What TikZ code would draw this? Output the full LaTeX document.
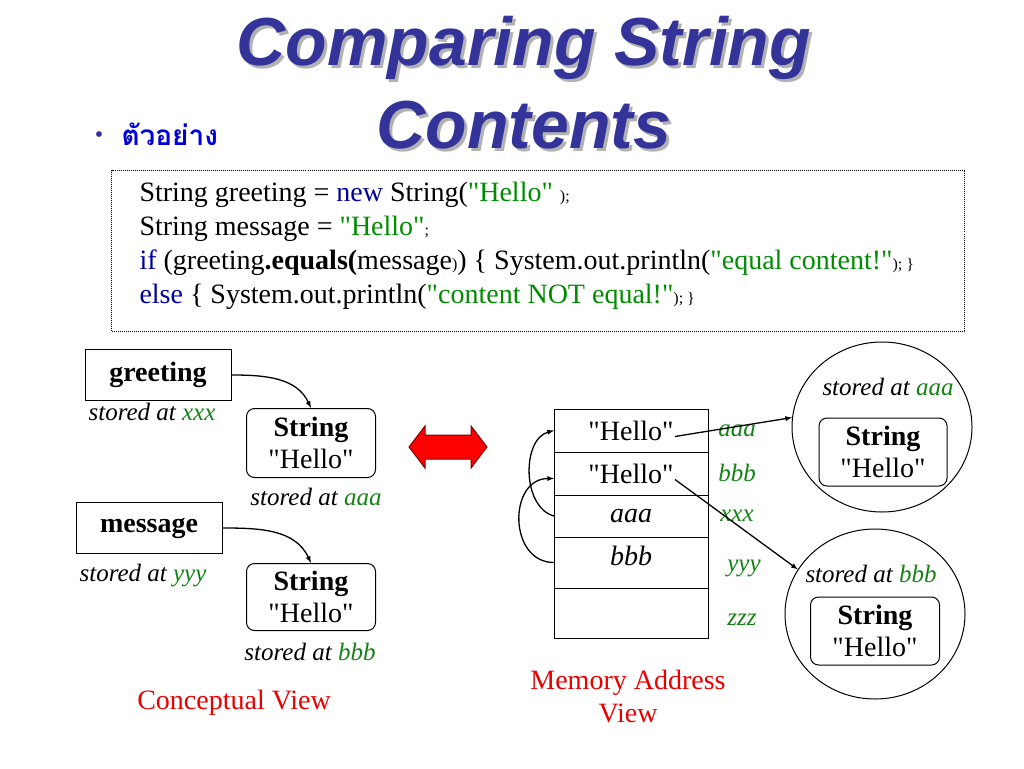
\documentclass[tikz,border=0pt]{standalone}
\usepackage{fontspec}
\setmainfont{Liberation Serif}[Ligatures=TeXOff]
\newfontfamily\titlefont{Liberation Sans}
\newfontfamily\thaifont[Script=Thai]{Loma}
\usetikzlibrary{shapes.geometric,positioning}

\definecolor{titleblue}{RGB}{51,51,153}
\definecolor{codegreen}{RGB}{0,140,0}
\definecolor{keyblue}{RGB}{0,0,160}
\definecolor{addrgreen}{RGB}{20,130,20}
\definecolor{viewred}{RGB}{235,0,0}
\newcommand{\fs}[2]{\fontsize{#1}{#2}\selectfont}
\newcommand{\str}[1]{\textcolor{codegreen}{#1}}
\newcommand{\sm}[1]{{\fs{16}{18}#1}}
\newcommand{\addr}[1]{\textcolor{addrgreen}{#1}}
% title text with its grey shadow in one box
\newcommand{\shadowed}[1]{\rlap{\kern3pt\raisebox{-3pt}{\textcolor{black!30}{#1}}}#1}

\begin{document}
\begin{tikzpicture}[x=1pt, y=-1pt, line width=1pt,
    titletext/.style={font=\titlefont\bfseries\itshape\fs{68}{80}, text=titleblue, anchor=base, inner sep=0pt},
    codeline/.style={font=\fs{28}{32}, anchor=base west, inner sep=0pt},
    varbox/.style={draw, font=\bfseries\fs{28}{32}, inner sep=0pt},
    objbox/.style={draw, rounded corners=8pt, align=center, font=\fs{28}{32}, inner sep=0pt},
    stored/.style={font=\itshape\fs{25}{28}, inner sep=0pt},
    memrow/.style={draw, minimum width=154pt, font=\fs{28}{32}, inner sep=0pt, outer sep=0pt},
    addrlabel/.style={font=\itshape\fs{25}{28}, text=addrgreen, inner sep=0pt},
    bubble/.style={draw, ellipse, minimum width=180pt, minimum height=170pt},
    viewlabel/.style={font=\fs{28}{33}, text=viewred, align=center, inner sep=0pt},
    link/.style={-latex, line width=1.3pt}]
    \useasboundingbox (0,0) rectangle (1024,768);

    % Title with shadow
    \node[titletext] (title1) at (524,65) {\shadowed{Comparing String}};
    \node[titletext] (title2) at (524,148) {\shadowed{Contents}};

    % Bullet
    \node[text=titleblue, font=\fs{24}{28}, inner sep=0pt] (dot) at (99,137) {\textbullet};
    \node[anchor=west, text=blue!85!black, font=\thaifont\bfseries\fs{28}{32}, inner sep=0pt] (example) at (121,134) {ตัวอย่าง};

    % Code box
    \node[draw, densely dotted, minimum width=853pt, minimum height=161pt, anchor=north west] (codebox) at (111,170) {};
    \node[codeline] (code1) at (139,201) {String greeting = \textcolor{keyblue}{new} String(\str{"Hello"} \sm{);}};
    \node[codeline] (code2) at (139,235) {String message = \str{"Hello"}\sm{;}};
    \node[codeline] (code3) at (139,269) {\textcolor{keyblue}{if} (greeting\textbf{.equals(}message\sm{)}) \{ System.out.println(\str{"equal content!"}\sm{); \}}};
    \node[codeline] (code4) at (139,303) {\textcolor{keyblue}{else} \{ System.out.println(\str{"content NOT equal!"}\sm{); \}}};

    % Conceptual view
    \node[varbox, minimum width=146pt, minimum height=51pt] (greeting) at (158,375) {greeting};
    \node[stored] (sgreet) at (152,412) {stored at \addr{xxx}};
    \node[objbox, minimum width=129pt, minimum height=69pt] (obj1) at (311,443) {\textbf{String}\\"Hello"};
    \node[stored] (sobj1) at (316,497) {stored at \addr{aaa}};
    \node[varbox, minimum width=146pt, minimum height=51pt] (message) at (149,528) {message};
    \node[stored] (smsg) at (143,576) {stored at \addr{yyy}};
    \node[objbox, minimum width=129pt, minimum height=67pt] (obj2) at (311,597) {\textbf{String}\\"Hello"};
    \node[stored] (sobj2) at (310,652) {stored at \addr{bbb}};
    \draw[link] (greeting.east) to[out=0, in=115] (obj1.north);
    \draw[link] (message.east) to[out=0, in=115] (obj2.north);
    \node[viewlabel] (concept) at (234,703) {Conceptual View};

    % Double arrow
    \filldraw[fill=red, draw=red!50!black] (409,447) -- (425,426) -- (425,435) -- (471,435) -- (471,426)
        -- (487,447) -- (471,468) -- (471,459) -- (425,459) -- (425,468) -- cycle;

    % Memory table
    \node[memrow, minimum height=43pt, anchor=north west] (row1) at (554,409) {"Hello"};
    \node[memrow, minimum height=43pt, below=0pt of row1] (row2) {"Hello"};
    \node[memrow, minimum height=42pt, below=0pt of row2, font=\itshape\fs{28}{32}] (row3) {aaa};
    \node[memrow, minimum height=51pt, below=0pt of row3, font=\itshape\fs{28}{32}, text depth=14pt] (row4) {bbb};
    \node[memrow, minimum height=50pt, below=0pt of row4] (row5) {};
    \node[addrlabel] (addr1) at (737,431) {aaa};
    \node[addrlabel] (addr2) at (737,473) {bbb};
    \node[addrlabel] (addr3) at (737,516) {xxx};
    \node[addrlabel] (addr4) at (744,568) {yyy};
    \node[addrlabel] (addr5) at (742,620) {zzz};
    \draw[link] (row3.west) to[out=165, in=195] (row1.west);
    \draw[link] (row4.west) to[out=180, in=180, looseness=1.4] ([yshift=-5pt]row2.west);
    \node[viewlabel] (memview) at (628,696) {Memory Address\\View};

    % Stored objects
    \node[bubble] (circ1) at (882,427) {};
    \node[stored] (scirc1) at (888,387) {stored at \addr{aaa}};
    \node[objbox, minimum width=128pt, minimum height=68pt] (obj3) at (883,452) {\textbf{String}\\"Hello"};
    \node[bubble] (circ2) at (875,614) {};
    \node[stored] (scirc2) at (871,574) {stored at \addr{bbb}};
    \node[objbox, minimum width=129pt, minimum height=68pt] (obj4) at (875,631) {\textbf{String}\\"Hello"};
    \draw[link] ([xshift=44pt,yshift=-6pt]row1.center) -- (circ1.174);
    \draw[link] ([xshift=44pt,yshift=-6pt]row2.center) -- (circ2.150);
\end{tikzpicture}
\end{document}
